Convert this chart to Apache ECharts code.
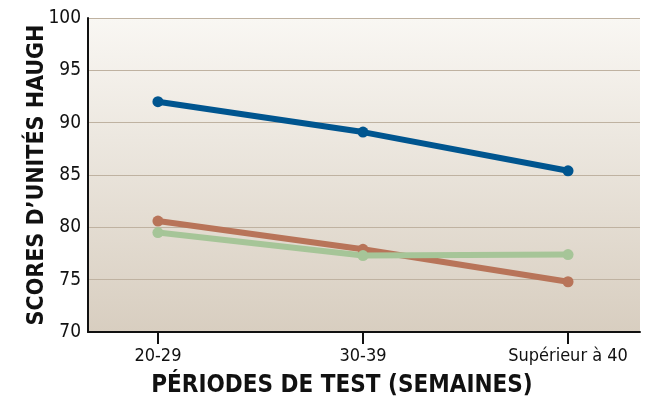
<!DOCTYPE html>
<html><head><meta charset="utf-8">
<script src="https://cdn.jsdelivr.net/npm/echarts@6/dist/echarts.min.js"></script>
<style>html,body{margin:0;padding:0;background:#fff}#c{width:646px;height:401px}</style>
</head><body><div id="c"></div>
<script>
const categories = ['20-29', '30-39', 'Supérieur à 40'];
const blueValues = [92.0, 89.1, 85.4];
const redValues = [80.6, 77.9, 74.8];
const greenValues = [79.5, 77.3, 77.4];
const yTicks = [70, 75, 80, 85, 90, 95, 100];

const FONT = '"Liberation Sans Narrow", "DejaVu Sans Condensed", "Roboto Condensed", "Liberation Sans", sans-serif';
const chart = echarts.init(document.getElementById('c'));
function mk(vals, color) {
  return {
    type: 'line', data: vals.map((v, i) => [i, v]),
    symbol: 'circle', symbolSize: 11,
    lineStyle: { color: color, width: 6 },
    itemStyle: { color: color },
    silent: true, animation: false
  };
}
chart.setOption({
  animation: false,
  grid: { left: 88, right: 6, top: 18, bottom: 69, show: true, borderWidth: 0,
    outerBoundsMode: 'none', containLabel: false,
    backgroundColor: new echarts.graphic.LinearGradient(0, 0, 0, 1, [
      { offset: 0, color: '#f9f7f3' }, { offset: 1, color: '#d8cec0' }]) },
  xAxis: {
    type: 'value', min: -0.341, max: 2.351,
    name: 'PÉRIODES DE TEST (SEMAINES)', nameLocation: 'middle', nameGap: 42, nameMoveOverlap: false,
    nameTextStyle: { fontFamily: FONT, fontWeight: 'bold', fontSize: 24, color: '#111', padding: [0, 44, 0, 0] },
    axisLine: { show: true, onZero: false, lineStyle: { color: '#111', width: 2 } },
    axisTick: { show: true, customValues: [0, 1, 2], length: 12, lineStyle: { color: '#111', width: 2 } },
    axisLabel: { customValues: [0, 1, 2], formatter: v => categories[Math.round(v)], fontFamily: FONT, fontSize: 18, color: '#111', margin: 15 },
    splitLine: { show: false }
  },
  yAxis: {
    type: 'value', min: 70, max: 100, interval: 5,
    name: 'SCORES D’UNITÉS HAUGH', nameLocation: 'middle', nameGap: 39, nameRotate: 90, nameMoveOverlap: false,
    nameTextStyle: { fontFamily: FONT, fontWeight: 'bold', fontSize: 23, color: '#111' },
    axisLine: { show: true, onZero: false, lineStyle: { color: '#111', width: 2 } },
    axisTick: { show: false },
    axisLabel: { fontFamily: FONT, fontSize: 19, color: '#111', margin: 7,
      formatter: v => yTicks.includes(v) ? String(v) : '' },
    splitLine: { show: true, lineStyle: { color: '#bfb2a1', width: 1 } }
  },
  series: [mk(blueValues, '#00558f'), mk(redValues, '#b87459'), mk(greenValues, '#a6c598')]
});
</script></body></html>
